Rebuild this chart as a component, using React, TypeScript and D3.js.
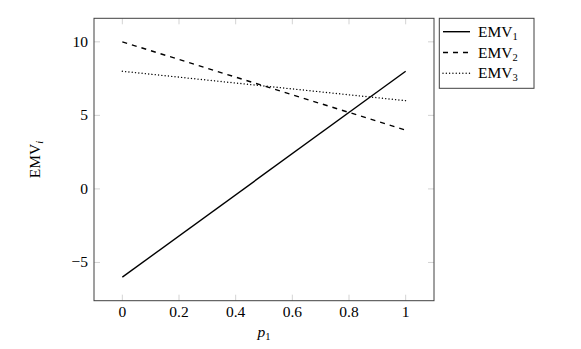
import React from "react";
import * as d3 from "d3";

const xTicks = [0, 0.2, 0.4, 0.6, 0.8, 1];
const yTicks = [-5, 0, 5, 10];
const xLabels = ["0", "0.2", "0.4", "0.6", "0.8", "1"];
const yLabels = ["\u22125", "0", "5", "10"];
const pValues = [0, 1];
const emv1 = [-6, 8];
const emv2 = [10, 4];
const emv3 = [8, 6];
const seriesNames = ["1", "2", "3"];

const W = 581, H = 349;
const L = 94, R = 434, T = 18.3, B = 300.7;
const FONT = "'Liberation Serif', serif";

export default function App() {
  const x = d3.scaleLinear().domain([-0.1, 1.1]).range([L, R]);
  const y = d3.scaleLinear().domain([-7.6, 11.6]).range([B, T]);
  const line = d3.line<[number, number]>().x(d => x(d[0])).y(d => y(d[1]));
  const series = [emv1, emv2, emv3];
  const dashes = ["none", "5 5", "0.01 3.3"];
  const caps: any = ["butt", "butt", "round"];
  const tickLen = 6;
  return (
    <svg width={W} height={H} style={{ position: "absolute", left: 0, top: 0, background: "#fff" }}>
      <rect x={0} y={0} width={W} height={H} fill="#fff" />
      {xTicks.map((t, i) => (
        <g key={"xt" + i}>
          <line x1={x(t)} x2={x(t)} y1={B} y2={B - tickLen} stroke="#c8c8c8" strokeWidth={0.8} />
          <line x1={x(t)} x2={x(t)} y1={T} y2={T + tickLen} stroke="#c8c8c8" strokeWidth={0.8} />
          <text x={x(t)} y={317} textAnchor="middle" fontFamily={FONT} fontSize={15.5}>{xLabels[i]}</text>
        </g>
      ))}
      {yTicks.map((t, i) => (
        <g key={"yt" + i}>
          <line x1={L} x2={L + tickLen} y1={y(t)} y2={y(t)} stroke="#c8c8c8" strokeWidth={0.8} />
          <line x1={R} x2={R - tickLen} y1={y(t)} y2={y(t)} stroke="#c8c8c8" strokeWidth={0.8} />
          <text x={L - 6} y={y(t) + 5} textAnchor="end" fontFamily={FONT} fontSize={15.5}>{yLabels[i]}</text>
        </g>
      ))}
      <defs>
        <clipPath id="plotclip"><rect x={L} y={T} width={R - L} height={B - T} /></clipPath>
      </defs>
      <g clipPath="url(#plotclip)">
        {series.map((s, i) => (
          <path key={"s" + i} d={line(pValues.map((p, j) => [p, s[j]] as [number, number])) || ""}
            fill="none" stroke="#000" strokeWidth={1.4} strokeDasharray={dashes[i]} strokeLinecap={caps[i]} />
        ))}
      </g>
      <rect x={L} y={T} width={R - L} height={B - T} fill="none" stroke="#404040" strokeWidth={1} />
      <text x={(L + R) / 2} y={337} textAnchor="middle" fontFamily={FONT} fontSize={15.5} fontStyle="italic">
        p<tspan fontSize={10.5} dy={3} fontStyle="normal">1</tspan>
      </text>
      <text transform={`translate(40, ${(T + B) / 2}) rotate(-90)`} textAnchor="middle" fontFamily={FONT} fontSize={15.5}>
        EMV<tspan fontSize={10.5} dy={3} fontStyle="italic">i</tspan>
      </text>
      <rect x={439.3} y={18.3} width={94.7} height={70} fill="#fff" stroke="#404040" strokeWidth={1} />
      {seriesNames.map((n, i) => {
        const ry = 31.7 + i * 20.8;
        return (
          <g key={"lg" + i}>
            <line x1={443} x2={470} y1={ry} y2={ry} stroke="#000" strokeWidth={1.4} strokeDasharray={dashes[i]} strokeLinecap={caps[i]} />
            <text x={478} y={ry + 5} fontFamily={FONT} fontSize={15.5}>
              EMV<tspan fontSize={10.5} dy={3}>{n}</tspan>
            </text>
          </g>
        );
      })}
    </svg>
  );
}
